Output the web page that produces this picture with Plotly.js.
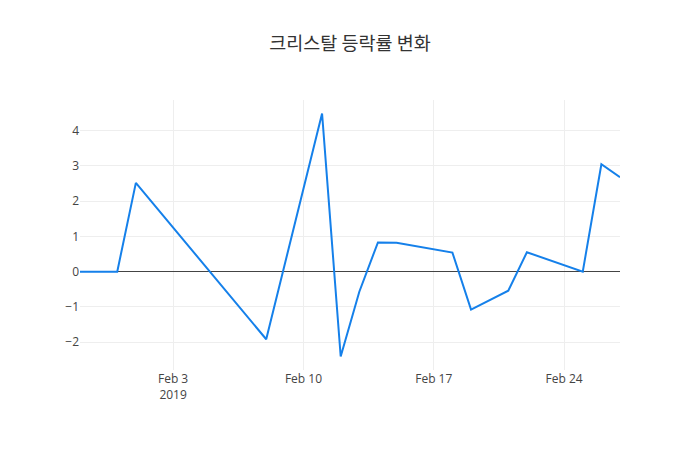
<!DOCTYPE html>
<html>
<head>
<meta charset="utf-8">
<script src="https://cdn.plot.ly/plotly-3.0.1.min.js"></script>
<style>
  html, body { margin: 0; padding: 0; background: #fff; }
  #chart { width: 700px; height: 450px; }
</style>
</head>
<body>
<div id="chart"></div>
<script>
// 크리스탈 일별 등락률 (%)
const dates = [
    "2019-01-29", "2019-01-31", "2019-02-01", "2019-02-08", "2019-02-11",
    "2019-02-12", "2019-02-13", "2019-02-14", "2019-02-15", "2019-02-18",
    "2019-02-19", "2019-02-21", "2019-02-22", "2019-02-25", "2019-02-26",
    "2019-02-27"
];
const rates = [
    0, 0, 2.52, -1.92, 4.49,
    -2.41, -0.57, 0.83, 0.82, 0.54,
    -1.08, -0.54, 0.55, 0, 3.05,
    2.68
];

const trace = {
    x: dates,
    y: rates,
    type: "scatter",
    mode: "lines",
    line: { color: "#1580ea", width: 2 }
};

const layout = {
    width: 700,
    height: 450,
    font: { family: "'Open Sans', 'Noto Sans CJK KR', sans-serif", color: "#444", size: 12 },
    title: {
        text: "크리스탈 등락률 변화",
        font: { family: "'Noto Sans CJK KR', sans-serif", size: 18.5, color: "#333" }
    },
    paper_bgcolor: "#fff",
    plot_bgcolor: "#fff",
    xaxis: { type: "date", gridcolor: "#eee" },
    yaxis: { gridcolor: "#eee", zerolinecolor: "#444", zerolinewidth: 1 },
    showlegend: false
};

Plotly.newPlot("chart", [trace], layout, { displayModeBar: false });
</script>
</body>
</html>
